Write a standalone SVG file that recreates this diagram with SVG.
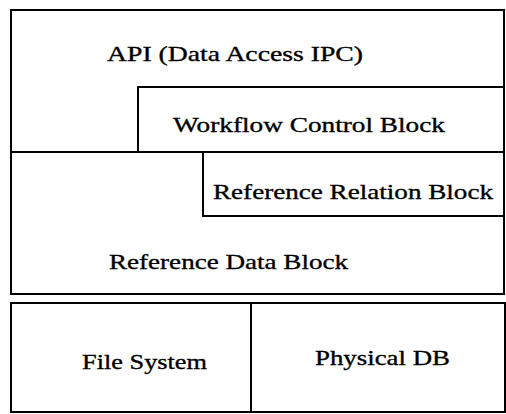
<svg xmlns="http://www.w3.org/2000/svg" width="506" height="414" viewBox="0 0 506 414">
  <style>
    .blk { fill: #ffffff; stroke: #000000; stroke-width: 2; stroke-linejoin: miter; }
    .lbl { font-family: "Liberation Serif", "DejaVu Serif", serif; font-size: 22px; fill: #000000; stroke: #000000; stroke-width: 0.35; }
  </style>
  <rect x="0" y="0" width="506" height="414" fill="#ffffff"/>

  <!-- upper stack: API layer wraps around the workflow block -->
  <g id="api">
    <polygon class="blk" points="11,10 504,10 504,87 138,87 138,152 11,152"/>
    <text class="lbl" x="107" y="61" textLength="256" lengthAdjust="spacingAndGlyphs">API (Data Access IPC)</text>
  </g>
  <g id="workflow">
    <rect class="blk" x="138" y="87" width="366" height="65"/>
    <text class="lbl" x="173" y="132" textLength="272" lengthAdjust="spacingAndGlyphs">Workflow Control Block</text>
  </g>
  <g id="refdata">
    <polygon class="blk" points="11,152 203,152 203,216 504,216 504,294 11,294"/>
    <text class="lbl" x="109" y="269" textLength="239" lengthAdjust="spacingAndGlyphs">Reference Data Block</text>
  </g>
  <g id="refrelation">
    <rect class="blk" x="203" y="152" width="301" height="64"/>
    <text class="lbl" x="213" y="199" textLength="280" lengthAdjust="spacingAndGlyphs">Reference Relation Block</text>
  </g>

  <!-- storage layer -->
  <g id="filesystem">
    <rect class="blk" x="11" y="303" width="240" height="109"/>
    <text class="lbl" x="82" y="369" textLength="125" lengthAdjust="spacingAndGlyphs">File System</text>
  </g>
  <g id="physicaldb">
    <rect class="blk" x="251" y="303" width="254" height="109"/>
    <text class="lbl" x="315" y="365" textLength="135" lengthAdjust="spacingAndGlyphs">Physical DB</text>
  </g>

  <g id="connectors"></g>
</svg>
